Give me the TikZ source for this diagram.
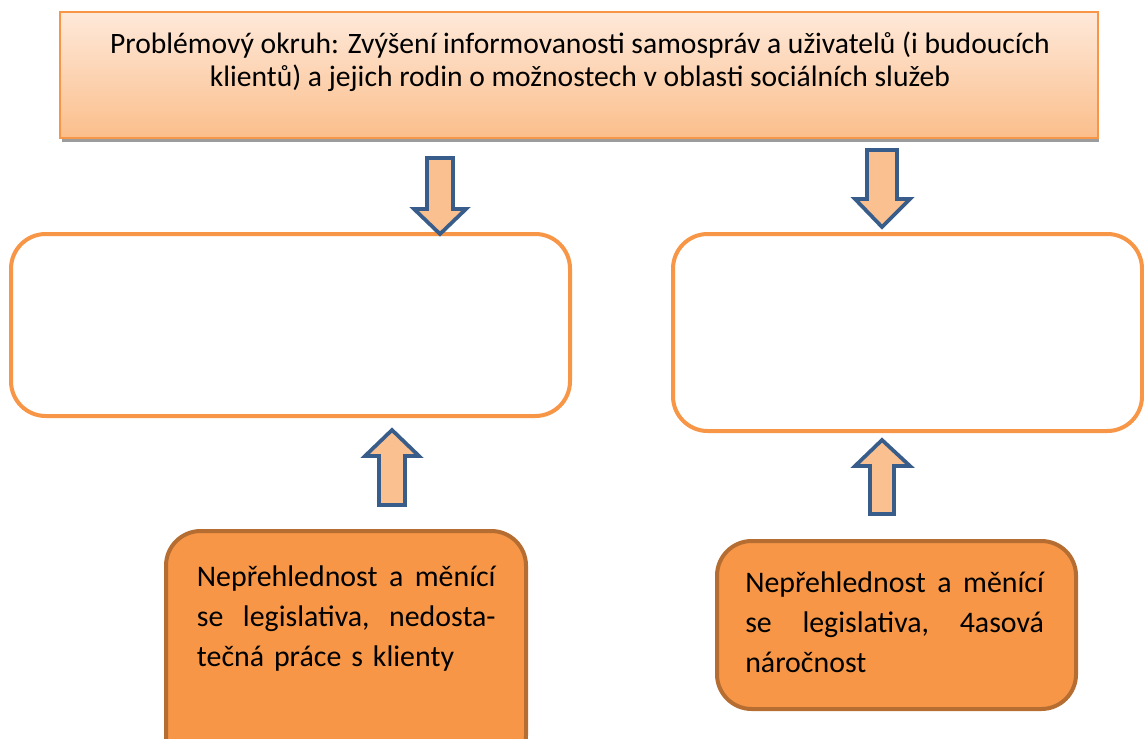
\documentclass[tikz,border=0pt]{standalone}
\usepackage{fontspec}
\setmainfont{Carlito}
\usetikzlibrary{positioning}

\definecolor{boxorange}{HTML}{F79646}
\definecolor{boxbrown}{HTML}{B66D31}
\definecolor{peachtop}{HTML}{FEE9DA}
\definecolor{peachbot}{HTML}{FBBE8B}
\definecolor{arrowblue}{HTML}{385D8A}
\definecolor{arrowfill}{HTML}{FAC090}
\definecolor{shadowgray}{HTML}{9C9C9C}

\begin{document}
\begin{tikzpicture}[x = 0.75pt, y = -0.75pt,
		topbox/.style = {draw = boxorange, line width = 1.5pt, top color = peachtop,
			bottom color = peachbot, inner sep = 0pt},
		effectbox/.style = {draw = boxorange, line width = 3pt, fill = white,
			rounded corners = 26pt, inner sep = 0pt},
		causebox/.style = {draw = boxbrown, line width = 3pt, fill = boxorange,
			rounded corners = 26pt, inner sep = 0pt},
		causetext/.style = {text width = 224pt, align = left, inner sep = 0pt,
			font = \fontsize{22.4}{30}\selectfont},
		blockarrow/.style = {draw = arrowblue, fill = arrowfill, line width = 2.8pt}]

	\clip (0,0) rectangle (1144,738);

	% problem area
	\fill [shadowgray] (62,136) rectangle (1099,142);
	\node [topbox, minimum width = 778.5pt, minimum height = 94.5pt] (problem) at (579,75) {};
	\node [align = center, font = \fontsize{22.2}{24.5}\selectfont] (problemtext) at (580,62)
		{Problémový okruh: Zvýšení informovanosti samospráv a uživatelů (i budoucích\\
		klientů) a jejich rodin o možnostech v oblasti sociálních služeb};

	% effects
	\node [effectbox, minimum width = 419.25pt, minimum height = 136.5pt] (lefteffect) at (290.5,325) {};
	\node [effectbox, minimum width = 351.75pt, minimum height = 147.75pt] (righteffect) at (907.5,332.5) {};

	% causes
	\node [causebox, minimum width = 270pt, minimum height = 179.25pt] (leftcause) at (346,650.5) {};
	\node [causebox, minimum width = 269.25pt, minimum height = 126pt] (rightcause) at (896.5,625) {};

	\node [causetext, anchor = north west, below right = 27pt and 24.5pt of leftcause.north west] (leftcausetext)
		{Nepřehlednost\hfill a\hfill měnící\\
		se\hfill legislativa,\hfill nedosta-\\
		tečná práce s klienty};
	\node [causetext, anchor = north west, below right = 24.5pt and 22.5pt of rightcause.north west] (rightcausetext)
		{Nepřehlednost\hfill a\hfill měnící\\
		se\hfill legislativa,\hfill 4asová\\
		náročnost};

	% arrows
	\draw [blockarrow] (427,158) -- (453,158) -- (453,209) -- (466,209) -- (440,234)
		-- (414,209) -- (427,209) -- cycle;
	\draw [blockarrow] (867,150) -- (897,150) -- (897,199) -- (910,199) -- (882,227)
		-- (855,199) -- (867,199) -- cycle;
	\draw [blockarrow] (379,505) -- (405,505) -- (405,456) -- (419,456) -- (392,430)
		-- (365,456) -- (379,456) -- cycle;
	\draw [blockarrow] (870,514) -- (894,514) -- (894,466) -- (910,466) -- (882,440)
		-- (855,466) -- (870,466) -- cycle;
\end{tikzpicture}
\end{document}
